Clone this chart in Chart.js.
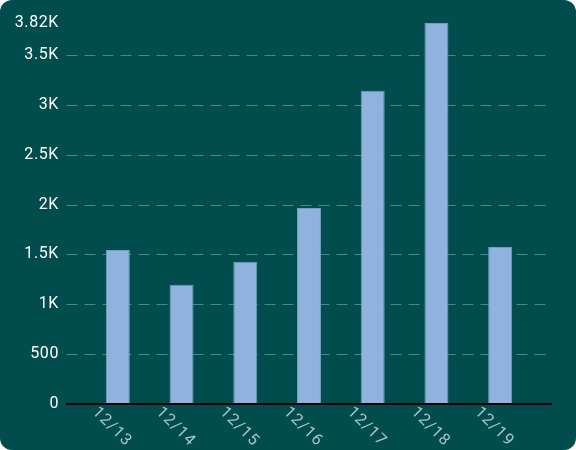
<!DOCTYPE html>
<html>
<head>
<meta charset="utf-8">
<script src="https://cdn.jsdelivr.net/npm/chart.js@4"></script>
<style>
  html, body { margin: 0; padding: 0; background: #ffffff; }
  #wrap { width: 576px; height: 450px; background: #014d4d; border-radius: 12px; overflow: hidden; }
</style>
</head>
<body>
<div id="wrap"><canvas id="barChart" width="576" height="450"></canvas></div>
<script>
const days = ['12/13', '12/14', '12/15', '12/16', '12/17', '12/18', '12/19'];
const counts = [1545, 1195, 1425, 1965, 3140, 3820, 1575];
const yTicks = [0, 500, 1000, 1500, 2000, 2500, 3000, 3500, 3820];

const fmt = v => v === 0 ? '0' : (v < 1000 ? String(v) : (v / 1000) + 'K');

// dashed grid + axis line, wider than the category band
const gridPlugin = {
  id: 'grid',
  beforeDraw(chart) {
    chart.ctx.letterSpacing = '0.6px';
  },
  beforeDatasetsDraw(chart) {
    const ctx = chart.ctx, y = chart.scales.y;
    ctx.save();
    ctx.strokeStyle = 'rgba(170, 200, 200, 0.45)';
    ctx.lineWidth = 1;
    ctx.setLineDash([11, 7]);
    yTicks.forEach(v => {
      if (v === 0 || v > 3500) return;
      const py = Math.round(y.getPixelForValue(v)) + 0.5;
      ctx.beginPath();
      ctx.moveTo(66.5, py);
      ctx.lineTo(546, py);
      ctx.stroke();
    });
    ctx.restore();
  },
  afterDatasetsDraw(chart) {
    const ctx = chart.ctx, y = chart.scales.y, x = chart.scales.x;
    ctx.save();
    ctx.strokeStyle = '#000000';
    ctx.lineWidth = 2;
    const py = y.getPixelForValue(0);
    ctx.beginPath();
    ctx.moveTo(66, py);
    ctx.lineTo(552, py);
    ctx.stroke();
    // rotated category labels (clockwise)
    ctx.fillStyle = '#a9c4c4';
    ctx.font = '16px Roboto';
    ctx.letterSpacing = '1.2px';
    ctx.textAlign = 'center';
    ctx.textBaseline = 'middle';
    days.forEach((d, i) => {
      const px = x.getPixelForValue(i);
      ctx.save();
      ctx.translate(px - 6, py + 23);
      ctx.rotate(Math.PI / 4);
      ctx.fillText(d, 0, 0);
      ctx.restore();
    });
    ctx.restore();
  }
};

new Chart(document.getElementById('barChart'), {
  type: 'bar',
  data: {
    labels: days,
    datasets: [{
      data: counts,
      backgroundColor: '#8fb3de',
      borderColor: '#789dc2',
      borderWidth: 1,
      categoryPercentage: 0.8,
      barPercentage: 0.47
    }]
  },
  options: {
    responsive: false,
    animation: false,
    layout: { padding: { top: 23, right: 44, left: 0, bottom: 0 } },
    plugins: { legend: { display: false }, tooltip: { enabled: false } },
    scales: {
      x: {
        grid: { display: false },
        border: { display: false },
        ticks: { display: false },
        afterFit(s) { s.height = 46; }
      },
      y: {
        min: 0,
        max: 3820,
        grid: { display: false },
        border: { display: false },
        afterBuildTicks(s) { s.ticks = yTicks.map(v => ({ value: v })); },
        afterFit(s) { s.width = 86; s.paddingTop = 0; s.paddingBottom = 0; },
        ticks: {
          padding: 19,
          color: '#ffffff',
          font: { family: 'Roboto', size: 16 },
          callback: v => fmt(v)
        }
      }
    }
  },
  plugins: [gridPlugin]
});
</script>
</body>
</html>
